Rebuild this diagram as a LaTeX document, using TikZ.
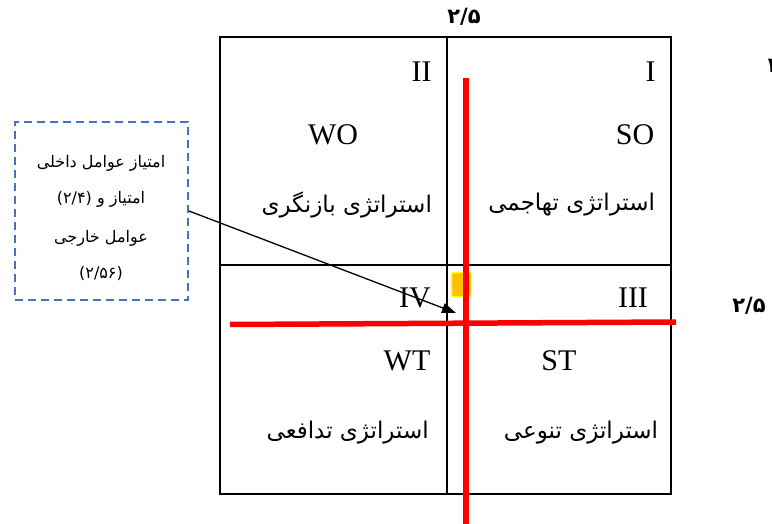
\documentclass[tikz,border=0pt]{standalone}
\usepackage{fontspec}
\setmainfont{Liberation Serif}
\newfontfamily\fa[Script=Arabic]{DejaVu Sans}
\TeXXeTstate=1
\usetikzlibrary{arrows.meta}
\definecolor{boxblue}{HTML}{4472C4}
\definecolor{qorange}{HTML}{FFC000}
\definecolor{qyellow}{HTML}{FFFF00}
\tikzset{
  roman/.style={inner sep=0pt, font=\fontsize{30}{32}\selectfont},
  strat/.style={inner sep=0pt, font=\fa\fontsize{23}{26}\selectfont},
  boxtxt/.style={inner sep=0pt, font=\fa\fontsize{16}{18}\selectfont},
  axisnum/.style={inner sep=0pt, font=\fa\bfseries\fontsize{21}{24}\selectfont},
  gridline/.style={line width=2pt, black},
  redline/.style={line width=5.5pt, red},
}
\begin{document}
\begin{tikzpicture}[x=1pt,y=-1pt]
\useasboundingbox (0,0) rectangle (772,524);
% grid
\draw[gridline] (220,37.5) rectangle (671,494);
\draw[gridline] (446.7,37.5) -- (446.7,494);
\draw[gridline] (220,264.7) -- (671,264.7);
% quadrant labels
\node[roman] (q1) at (650.7,72) {I};
\node[roman] (q2) at (421.7,72) {II};
\node[roman] (q3) at (633,298) {III};
\node[roman] (q4) at (415,298) {IV};
\node[roman] (so) at (635,135) {SO};
\node[roman] (wo) at (333,135) {WO};
\node[roman] (st) at (559,361) {ST};
\node[roman] (wt) at (407,361) {WT};
\node[strat] (s1) at (571.7,205) {\beginR استراتژی تهاجمی\endR};
\node[strat] (s2) at (346.7,205) {\beginR استراتژی بازنگری\endR};
\node[strat] (s3) at (581,433) {\beginR استراتژی تنوعی\endR};
\node[strat] (s4) at (347.7,433) {\beginR استراتژی تدافعی\endR};
% axis numbers
\node[axisnum] (top) at (464,17) {۲/۵};
\node[axisnum] (right) at (749,306) {۲/۵};
\node[axisnum, anchor=west] (one) at (765,66) {۱};
% dashed box
\node[draw=boxblue, line width=2pt, dash pattern=on 8pt off 5pt, minimum width=173pt, minimum height=178pt, inner sep=0pt] (box) at (101.5,211) {};
\node[boxtxt] (t1) at (101,163) {\beginR امتیاز عوامل داخلی\endR};
\node[boxtxt] (t2) at (101,199) {\beginR امتیاز و \beginL(۲/۴)\endL\endR};
\node[boxtxt] (t3) at (101,238) {\beginR عوامل خارجی\endR};
\node[boxtxt] (t4) at (101,273) {(۲/۵۶)};
% yellow marker
\draw[qyellow, fill=qorange, line width=1.5pt, rounded corners=2pt] (451.5,272.5) rectangle (471,296.5);
% arrow
\coordinate (tip) at (456,313);
\draw[line width=1.3pt, -{Triangle[length=14pt,width=10pt]}] (box.east) -- (tip);
% red lines
\draw[redline] (466,78) -- (466,524);
\draw[redline] (230,324.5) -- (676,322);
\end{tikzpicture}
\end{document}
